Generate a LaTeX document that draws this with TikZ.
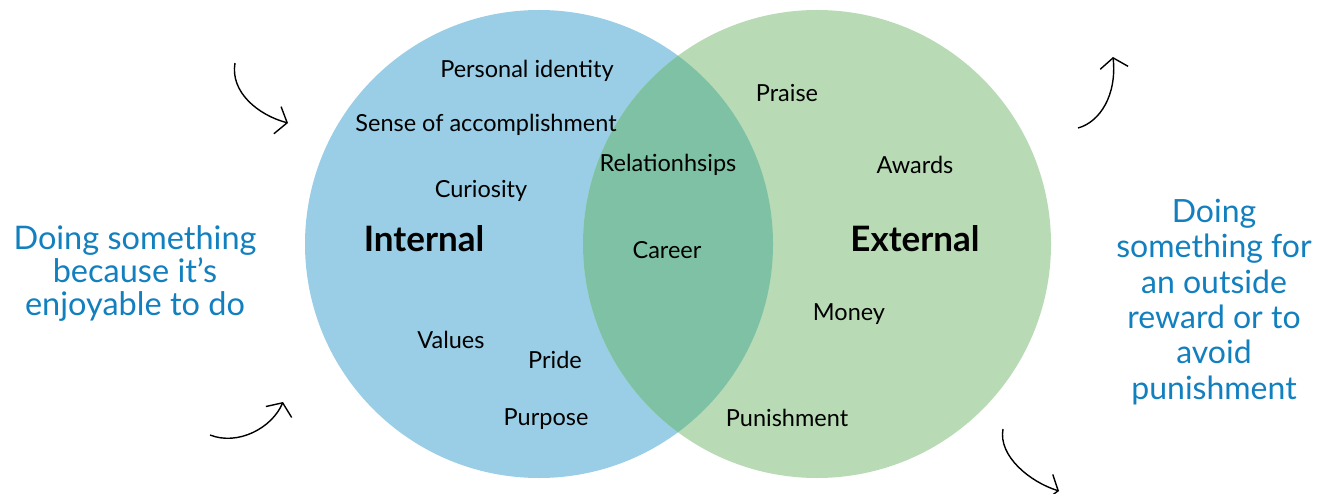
\documentclass[tikz,border=0pt]{standalone}
\usepackage{fontspec}
\setmainfont{Lato}
\usepackage{xcolor}
\usetikzlibrary{arrows.meta}

\definecolor{intblue}{HTML}{99CEE6}
\definecolor{extgreen}{HTML}{B8DBB5}
\definecolor{bothgreen}{HTML}{7FC1A5}
\definecolor{noteblue}{HTML}{127FBF}

\begin{document}
\begin{tikzpicture}[x=1pt, y=-1pt,
  word/.style={font=\fontsize{23.5}{26}\selectfont},
  title/.style={font=\fontsize{35}{38}\selectfont\bfseries},
  side/.style={font=\fontsize{32.5}{33}\selectfont, text=noteblue, align=center},
  sketch/.style={line width=1.4pt, -{Straight Barb[length=10pt,width=28pt,line width=1.4pt]}}]
\useasboundingbox (0,0) rectangle (1324,494);
% internal
\fill[intblue] (539,244) circle (234pt);
% external
\fill[extgreen] (817,244) circle (234pt);
% overlap
\begin{scope}
\clip (539,244) circle (234pt);
\fill[bothgreen] (817,244) circle (234pt);
\end{scope}
% labels
\node[word] (identity) at (527,71) {Personal identity};
\node[word] (accomp) at (486,125) {Sense of accomplishment};
\node[word] (curiosity) at (481,191) {Curiosity};
\node[title] (internal) at (424,239) {Internal};
\node[word] (values) at (451,340) {Values};
\node[word] (pride) at (555,360) {Pride};
\node[word] (purpose) at (546,419) {Purpose};
\node[word] (relations) at (668,165) {Relationhsips};
\node[word] (career) at (667,250) {Career};
\node[word] (praise) at (787,93) {Praise};
\node[word] (awards) at (915,165) {Awards};
\node[title] (external) at (915,239) {External};
\node[word] (money) at (849,314) {Money};
\node[word] (punish) at (787,418) {Punishment};
% side notes
\node[side] (fun) at (135,273) {Doing something\\because it’s\\enjoyable to do};
\node[side, font=\fontsize{32}{35.3}\selectfont] (reward) at (1214,302) {Doing\\something for\\an outside\\reward or to\\avoid\\punishment};
% arrows
\coordinate (inAs) at (235,63);
\coordinate (inAt) at (288,123);
\coordinate (inBs) at (210,435);
\coordinate (inBt) at (283,402);
\coordinate (outAs) at (1078,128);
\coordinate (outAt) at (1113,57);
\coordinate (outBs) at (1003,429);
\coordinate (outBt) at (1059,491);
\draw[sketch] (inAs) .. controls (230,92) and (258,115) .. (inAt);
\draw[sketch] (inBs) .. controls (238,446) and (272,428) .. (inBt);
\draw[sketch] (outAs) .. controls (1100,122) and (1117,95) .. (outAt);
\draw[sketch] (outBs) .. controls (998,456) and (1030,482) .. (outBt);
\end{tikzpicture}
\end{document}
